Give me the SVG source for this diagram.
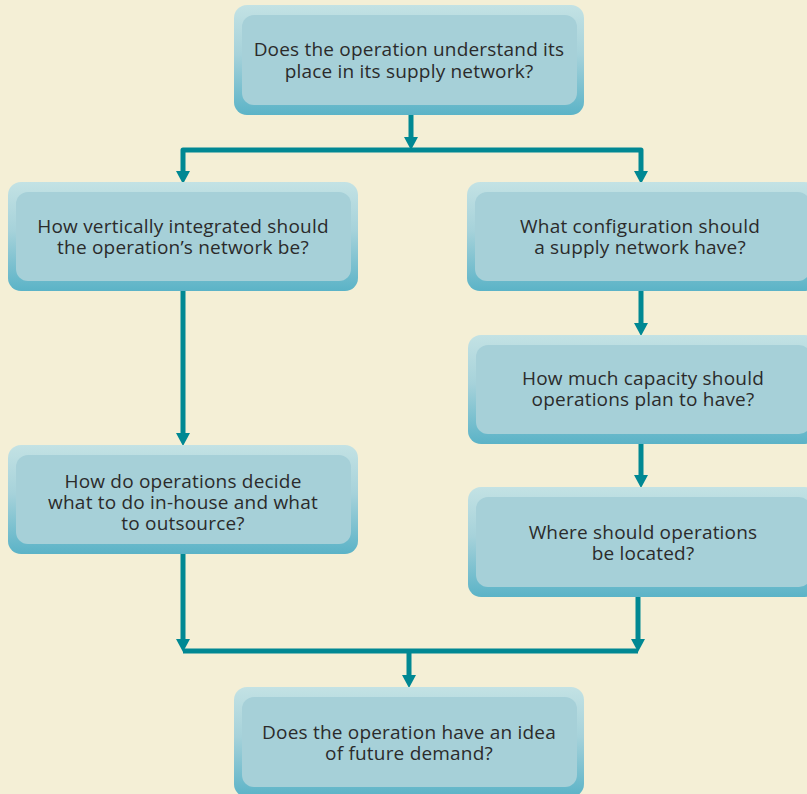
<svg xmlns="http://www.w3.org/2000/svg" width="807" height="794" viewBox="0 0 807 794">
<defs>
<linearGradient id="outer" x1="0" y1="0" x2="0" y2="1">
<stop offset="0" stop-color="#c3e2e4"/>
<stop offset="0.45" stop-color="#a6d2da"/>
<stop offset="1" stop-color="#5bb3c7"/>
</linearGradient>
<marker id="ah" markerUnits="userSpaceOnUse" markerWidth="14" markerHeight="14" refX="6" refY="7" orient="auto" viewBox="0 0 14 14">
<path d="M0,0 L13,7 L0,14 Z" fill="#008893"/>
</marker>
<style>
.outer{fill:url(#outer);}
.inner{fill:#a6d0d8;}
.t{font-family:"Open Sans","Noto Sans",sans-serif;font-size:19px;letter-spacing:0.2px;fill:#2b2b2b;text-anchor:middle;}
.c{fill:none;stroke:#008893;stroke-width:5;stroke-linejoin:round;}
</style>
</defs>
<rect width="807" height="794" fill="#f4efd6"/>
<g id="connectors">
<path class="c" d="M411,115 V143" marker-end="url(#ah)"/>
<path class="c" d="M411,150 H183 V177" marker-end="url(#ah)"/>
<path class="c" d="M411,150 H641 V177" marker-end="url(#ah)"/>
<path class="c" d="M183,291 V439" marker-end="url(#ah)"/>
<path class="c" d="M641,291 V329" marker-end="url(#ah)"/>
<path class="c" d="M641,444 V481" marker-end="url(#ah)"/>
<path class="c" d="M183,554 V645" marker-end="url(#ah)"/>
<path class="c" d="M638,597 V645" marker-end="url(#ah)"/>
<path class="c" d="M183,651 H638"/>
<path class="c" d="M409,651 V681" marker-end="url(#ah)"/>
</g>
<g id="n1">
<rect class="outer" x="234" y="5" width="350" height="110" rx="13"/>
<rect class="inner" x="242" y="15" width="335" height="90" rx="12"/>
<text class="t" x="409" y="56">Does the operation understand its</text>
<text class="t" x="409" y="78">place in its supply network?</text>
</g>
<g id="n2">
<rect class="outer" x="8" y="182" width="350" height="109" rx="13"/>
<rect class="inner" x="16" y="192" width="335" height="89" rx="12"/>
<text class="t" x="183" y="233">How vertically integrated should</text>
<text class="t" x="183" y="254">the operation’s network be?</text>
</g>
<g id="n3">
<rect class="outer" x="467" y="182" width="350" height="109" rx="13"/>
<rect class="inner" x="475" y="192" width="335" height="89" rx="12"/>
<text class="t" x="640" y="233">What configuration should</text>
<text class="t" x="640" y="254">a supply network have?</text>
</g>
<g id="n4">
<rect class="outer" x="468" y="335" width="350" height="109" rx="13"/>
<rect class="inner" x="476" y="345" width="335" height="89" rx="12"/>
<text class="t" x="643" y="385">How much capacity should</text>
<text class="t" x="643" y="406">operations plan to have?</text>
</g>
<g id="n5">
<rect class="outer" x="8" y="445" width="350" height="109" rx="13"/>
<rect class="inner" x="16" y="455" width="335" height="89" rx="12"/>
<text class="t" x="183" y="488">How do operations decide</text>
<text class="t" x="183" y="509">what to do in-house and what</text>
<text class="t" x="183" y="530">to outsource?</text>
</g>
<g id="n6">
<rect class="outer" x="468" y="487" width="350" height="110" rx="13"/>
<rect class="inner" x="476" y="497" width="335" height="90" rx="12"/>
<text class="t" x="643" y="539">Where should operations</text>
<text class="t" x="643" y="560">be located?</text>
</g>
<g id="n7">
<rect class="outer" x="234" y="687" width="350" height="110" rx="13"/>
<rect class="inner" x="242" y="697" width="335" height="90" rx="12"/>
<text class="t" x="409" y="739">Does the operation have an idea</text>
<text class="t" x="409" y="760">of future demand?</text>
</g>
</svg>
